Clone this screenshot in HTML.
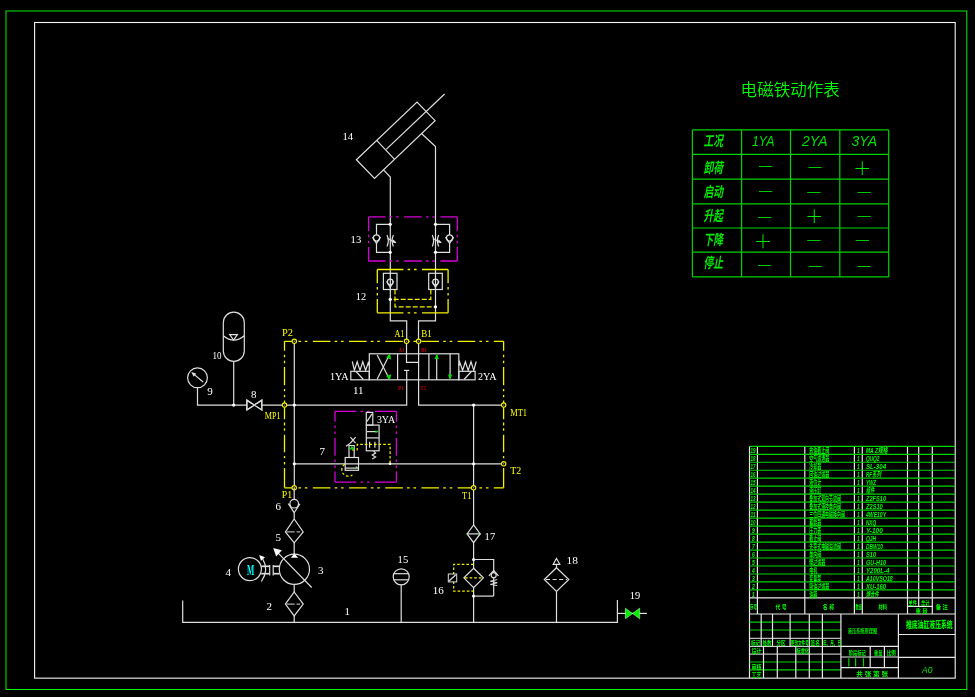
<!DOCTYPE html>
<html lang="zh">
<head>
<meta charset="utf-8">
<title>推底油缸液压系统 液压系统原理图</title>
<style>
html,body{margin:0;padding:0;background:#000;overflow:hidden}
body{width:975px;height:697px}
svg{display:block;position:absolute;left:0;top:0;will-change:transform}
text{white-space:pre}
.lb{font-family:"Liberation Serif","Noto Serif CJK SC",serif;font-size:11px;fill:#fff}
.yl{font-family:"Liberation Serif","Noto Serif CJK SC",serif;font-size:11px;fill:#ffff00}
.rd{font-family:"Liberation Serif","Noto Serif CJK SC",serif;font-size:6.8px;font-weight:700;fill:#c00000}
.mm{font-family:"Liberation Serif","Noto Serif CJK SC",serif;font-size:13.6px;font-weight:700;fill:#00ffff}
.tt{font-family:"Liberation Sans","Noto Sans CJK SC",sans-serif;font-weight:350;font-size:16.5px;fill:#00ff00}
.th{font-family:"Liberation Sans","Noto Sans CJK SC",sans-serif;font-style:italic;font-size:14px;fill:#00e000}
.tr{font-family:"Liberation Sans","Noto Sans CJK SC",sans-serif;font-style:italic;font-weight:700;font-size:14.5px;fill:#00e800}
.mk{font-family:"Liberation Sans","Noto Sans CJK SC",sans-serif;font-size:13.2px;fill:#00e000}
.pk{font-family:"Liberation Sans","Noto Sans CJK SC",sans-serif;font-weight:200;font-size:18.5px;fill:#00f000}
.bc{font-family:"Liberation Sans","Noto Sans CJK SC",sans-serif;font-weight:700;font-size:7.4px;fill:#00ff00}
.bh{font-family:"Liberation Sans","Noto Sans CJK SC",sans-serif;font-weight:700;font-size:6.1px;fill:#00ff00}
.bs{font-family:"Liberation Sans","Noto Sans CJK SC",sans-serif;font-weight:700;font-size:5.2px;fill:#00f000}
.bi{font-family:"Liberation Sans","Noto Sans CJK SC",sans-serif;font-style:italic;font-weight:700;font-size:7.4px;fill:#00ff00}
.bt{font-family:"Liberation Sans","Noto Sans CJK SC",sans-serif;font-weight:900;font-size:9.3px;fill:#00f400}
.ba{font-family:"Liberation Sans","Noto Sans CJK SC",sans-serif;font-style:italic;font-size:9.5px;fill:#00f000}
</style>
</head>
<body>
<svg width="975" height="697" viewBox="0 0 975 697">
<rect x="0" y="0" width="975" height="697" fill="#000"/>
<rect x="6" y="11" width="960.8" height="678.5" fill="none" stroke="#00f000" stroke-width="1" />
<rect x="34.6" y="22.5" width="920.6" height="655.65" fill="none" stroke="#f4f4f4" stroke-width="1.1" />
<polygon points="356.4,159.7 417,102 435.1,120.7 374.5,178.5" fill="none" stroke="#dedede" stroke-width="1.2" />
<line x1="376.9" y1="140.6" x2="394.6" y2="159.3" stroke="#dedede" stroke-width="1.2" />
<line x1="386.2" y1="149.4" x2="444.6" y2="94" stroke="#dedede" stroke-width="1.2" />
<polyline points="383.4,169.9 390.3,177 390.3,320.8 406.7,320.8 406.7,341.2" fill="none" stroke="#dedede" stroke-width="1.2" />
<polyline points="421.7,133.7 435.5,146.6 435.5,320.8 418.5,320.8 418.5,341.2" fill="none" stroke="#dedede" stroke-width="1.2" />
<line x1="368.6" y1="216.9" x2="457.3" y2="216.9" stroke="#d400d4" stroke-width="1.3" stroke-dasharray="16.95 4.2 2.6 3.8 2.6 5.4 17.6 4.2 2.6 3.8 2.6 5.4 17.95 50"/>
<line x1="368.6" y1="261" x2="457.3" y2="261" stroke="#d400d4" stroke-width="1.3" stroke-dasharray="16.95 4.2 2.6 3.8 2.6 5.4 17.6 4.2 2.6 3.8 2.6 5.4 17.95 50"/>
<line x1="368.6" y1="216.9" x2="368.6" y2="261" stroke="#d400d4" stroke-width="1.3" stroke-dasharray="14.1 3.7 2.5 3.6 2.5 3.6 15.1 50"/>
<line x1="457.3" y1="216.9" x2="457.3" y2="261" stroke="#d400d4" stroke-width="1.3" stroke-dasharray="14.1 3.7 2.5 3.6 2.5 3.6 15.1 50"/>
<polyline points="390.2,224.3 376.5,224.3 376.5,234.9" fill="none" stroke="#dedede" stroke-width="1.2" />
<polyline points="376.5,243.3 376.5,252.3 390.2,252.3" fill="none" stroke="#dedede" stroke-width="1.2" />
<circle cx="390.2" cy="224.3" r="1.6" fill="#ffffff"/>
<circle cx="390.2" cy="252.3" r="1.6" fill="#ffffff"/>
<circle cx="376.5" cy="238" r="3.1" fill="none" stroke="#dedede" stroke-width="1.2" />
<polyline points="372.4,237.1 376.5,243.3 380.6,237.1" fill="none" stroke="#dedede" stroke-width="1.2" />
<path d="M387.0,235.1 Q389.59999999999997,240.7 387.0,246.4" fill="none" stroke="#dedede" stroke-width="1.2" />
<path d="M393.4,235.1 Q390.8,240.7 393.4,246.4" fill="none" stroke="#dedede" stroke-width="1.2" />
<line x1="387.7" y1="238.5" x2="395.7" y2="242.6" stroke="#dedede" stroke-width="1.2" />
<polygon points="396.5,243 392.0,242.6 393.5,239.6" fill="#dedede" stroke="none" stroke-width="1"/>
<polyline points="435.5,224.3 449.6,224.3 449.6,234.9" fill="none" stroke="#dedede" stroke-width="1.2" />
<polyline points="449.6,243.3 449.6,252.3 435.5,252.3" fill="none" stroke="#dedede" stroke-width="1.2" />
<circle cx="435.5" cy="224.3" r="1.6" fill="#ffffff"/>
<circle cx="435.5" cy="252.3" r="1.6" fill="#ffffff"/>
<circle cx="449.6" cy="238" r="3.1" fill="none" stroke="#dedede" stroke-width="1.2" />
<polyline points="445.5,237.1 449.6,243.3 453.70000000000005,237.1" fill="none" stroke="#dedede" stroke-width="1.2" />
<path d="M432.3,235.1 Q434.9,240.7 432.3,246.4" fill="none" stroke="#dedede" stroke-width="1.2" />
<path d="M438.7,235.1 Q436.1,240.7 438.7,246.4" fill="none" stroke="#dedede" stroke-width="1.2" />
<line x1="433.0" y1="238.5" x2="441.0" y2="242.6" stroke="#dedede" stroke-width="1.2" />
<polygon points="441.8,243 437.3,242.6 438.8,239.6" fill="#dedede" stroke="none" stroke-width="1"/>
<line x1="377.3" y1="269.5" x2="448.1" y2="269.5" stroke="#f2f200" stroke-width="1.3" stroke-dasharray="26.1 4.2 2.6 3.8 2.6 5.4 27.1 50"/>
<line x1="377.3" y1="312.8" x2="448.1" y2="312.8" stroke="#f2f200" stroke-width="1.3" stroke-dasharray="26.1 4.2 2.6 3.8 2.6 5.4 27.1 50"/>
<line x1="377.3" y1="269.5" x2="377.3" y2="312.8" stroke="#f2f200" stroke-width="1.3" stroke-dasharray="13.7 3.7 2.5 3.6 2.5 3.6 14.7 50"/>
<line x1="448.1" y1="269.5" x2="448.1" y2="312.8" stroke="#f2f200" stroke-width="1.3" stroke-dasharray="13.7 3.7 2.5 3.6 2.5 3.6 14.7 50"/>
<rect x="383.4" y="273.3" width="13.6" height="16.2" fill="none" stroke="#dedede" stroke-width="1.2" />
<circle cx="390.2" cy="282" r="2.8" fill="none" stroke="#dedede" stroke-width="1.2" />
<polyline points="386.59999999999997,281.2 390.2,287.3 393.8,281.2" fill="none" stroke="#dedede" stroke-width="1.2" />
<rect x="428.7" y="273.3" width="13.6" height="16.2" fill="none" stroke="#dedede" stroke-width="1.2" />
<circle cx="435.5" cy="282" r="2.8" fill="none" stroke="#dedede" stroke-width="1.2" />
<polyline points="431.9,281.2 435.5,287.3 439.1,281.2" fill="none" stroke="#dedede" stroke-width="1.2" />
<polyline points="395,289.5 395,306.8 435.5,306.8" fill="none" stroke="#f2f200" stroke-width="1.2" stroke-dasharray="5 2"/>
<polyline points="430.8,289.5 430.8,299.4 390.2,299.4" fill="none" stroke="#f2f200" stroke-width="1.2" stroke-dasharray="5 2"/>
<circle cx="390.2" cy="299.4" r="1.6" fill="#ffffff"/>
<circle cx="435.5" cy="306.8" r="1.6" fill="#ffffff"/>
<line x1="284.5" y1="341.3" x2="503.6" y2="341.3" stroke="#f2f200" stroke-width="1.3" stroke-dasharray="9.75 4.2 2.6 3.8 2.6 5.4 17.6 4.2 2.6 3.8 2.6 5.4 17.6 4.2 2.6 3.8 2.6 5.4 17.6 4.2 2.6 3.8 2.6 5.4 17.6 4.2 2.6 3.8 2.6 5.4 17.6 4.2 2.6 3.8 2.6 5.4 10.75 50"/>
<line x1="284.5" y1="487.8" x2="503.6" y2="487.8" stroke="#f2f200" stroke-width="1.3" stroke-dasharray="9.75 4.2 2.6 3.8 2.6 5.4 17.6 4.2 2.6 3.8 2.6 5.4 17.6 4.2 2.6 3.8 2.6 5.4 17.6 4.2 2.6 3.8 2.6 5.4 17.6 4.2 2.6 3.8 2.6 5.4 17.6 4.2 2.6 3.8 2.6 5.4 10.75 50"/>
<line x1="284.5" y1="341.3" x2="284.5" y2="487.8" stroke="#f2f200" stroke-width="1.3" stroke-dasharray="9.5 3.9 2.5 3.6 2.5 3.6 18.3 3.7 2.4 3.7 2.3 3.3 18.7 3.2 2.9 2.9 2.5 3.9 17.6 3.6 2.4 3.7 2.5 3.6 30 50"/>
<line x1="503.6" y1="341.3" x2="503.6" y2="487.8" stroke="#f2f200" stroke-width="1.3" stroke-dasharray="9.5 3.9 2.5 3.6 2.5 3.6 18.3 3.7 2.4 3.7 2.3 3.3 18.7 3.2 2.9 2.9 2.5 3.9 17.6 3.6 2.4 3.7 2.5 3.6 30 50"/>
<line x1="294.3" y1="341.3" x2="294.3" y2="487.8" stroke="#dedede" stroke-width="1.2" />
<polyline points="197.5,387.8 197.5,405.1 406.7,405.1 406.7,370.4" fill="none" stroke="#dedede" stroke-width="1.2" />
<line x1="404" y1="370.4" x2="409.2" y2="370.4" stroke="#dedede" stroke-width="1.2" />
<polyline points="406.5,341.2 406.5,362.4 418.6,362.4" fill="none" stroke="#dedede" stroke-width="1.2" />
<polyline points="418.6,341.2 418.6,405.1 503.7,405.1" fill="none" stroke="#dedede" stroke-width="1.2" />
<line x1="294.3" y1="463.8" x2="503.7" y2="463.8" stroke="#dedede" stroke-width="1.2" />
<line x1="473.6" y1="405.1" x2="473.6" y2="524.9" stroke="#dedede" stroke-width="1.2" />
<line x1="473.6" y1="542.7" x2="473.6" y2="568.3" stroke="#dedede" stroke-width="1.2" />
<line x1="473.6" y1="587.6" x2="473.6" y2="622.4" stroke="#dedede" stroke-width="1.2" />
<circle cx="294.3" cy="405.1" r="1.6" fill="#ffffff"/>
<circle cx="294.3" cy="463.8" r="1.6" fill="#ffffff"/>
<circle cx="473.6" cy="405.1" r="1.6" fill="#ffffff"/>
<circle cx="473.6" cy="463.8" r="1.6" fill="#ffffff"/>
<circle cx="294.3" cy="341.3" r="2.2" fill="#000" stroke="#f2f200" stroke-width="1.1" />
<circle cx="294.3" cy="341.3" r="0.7" fill="#8890a0"/>
<circle cx="406.5" cy="341.3" r="2.2" fill="#000" stroke="#f2f200" stroke-width="1.1" />
<circle cx="406.5" cy="341.3" r="0.7" fill="#8890a0"/>
<circle cx="418.6" cy="341.3" r="2.2" fill="#000" stroke="#f2f200" stroke-width="1.1" />
<circle cx="418.6" cy="341.3" r="0.7" fill="#8890a0"/>
<circle cx="284.5" cy="405.1" r="2.2" fill="#000" stroke="#f2f200" stroke-width="1.1" />
<circle cx="284.5" cy="405.1" r="0.7" fill="#8890a0"/>
<circle cx="503.7" cy="405.1" r="2.2" fill="#000" stroke="#f2f200" stroke-width="1.1" />
<circle cx="503.7" cy="405.1" r="0.7" fill="#8890a0"/>
<circle cx="503.7" cy="463.8" r="2.2" fill="#000" stroke="#f2f200" stroke-width="1.1" />
<circle cx="503.7" cy="463.8" r="0.7" fill="#8890a0"/>
<circle cx="294.2" cy="487.8" r="2.2" fill="#000" stroke="#f2f200" stroke-width="1.1" />
<circle cx="294.2" cy="487.8" r="0.7" fill="#8890a0"/>
<circle cx="473.6" cy="487.8" r="2.2" fill="#000" stroke="#f2f200" stroke-width="1.1" />
<circle cx="473.6" cy="487.8" r="0.7" fill="#8890a0"/>
<rect x="369.3" y="353.8" width="89.5" height="26.0" fill="none" stroke="#dedede" stroke-width="1.2" />
<line x1="397.6" y1="353.8" x2="397.6" y2="379.8" stroke="#dedede" stroke-width="1.2" />
<line x1="428.9" y1="353.8" x2="428.9" y2="379.8" stroke="#dedede" stroke-width="1.2" />
<line x1="377.2" y1="355" x2="389.2" y2="378.7" stroke="#dedede" stroke-width="1.2" />
<line x1="377.2" y1="379" x2="389.2" y2="355.2" stroke="#dedede" stroke-width="1.2" />
<polygon points="390.2,353.6 386.2,357.6 391,359.4" fill="#00e000" stroke="none" stroke-width="1"/>
<polygon points="390.2,380 386.2,376 391,374.2" fill="#00e000" stroke="none" stroke-width="1"/>
<line x1="436.7" y1="355" x2="436.7" y2="379.8" stroke="#dedede" stroke-width="1.2" />
<line x1="450.1" y1="353.8" x2="450.1" y2="378.5" stroke="#dedede" stroke-width="1.2" />
<polygon points="436.7,353.6 434.6,359 438.8,359" fill="#00e000" stroke="none" stroke-width="1"/>
<polygon points="450.1,380 448,374.6 452.2,374.6" fill="#00e000" stroke="none" stroke-width="1"/>
<polyline points="352.3,361.5 354.4,370.4 357.2,361.8 360,370.4 362.8,361.8 365.6,370.4 368.6,361.8 369.3,366" fill="none" stroke="#dedede" stroke-width="1.2" />
<rect x="350.8" y="371.3" width="18.5" height="8.5" fill="none" stroke="#dedede" stroke-width="1.2" />
<line x1="356" y1="371.5" x2="363.4" y2="379.5" stroke="#dedede" stroke-width="1.2" />
<polyline points="458.8,366 459.6,361.8 462.6,370.4 465.4,361.8 468.2,370.4 471,361.8 473.8,370.4 476.2,361.5" fill="none" stroke="#dedede" stroke-width="1.2" />
<rect x="458.8" y="371.3" width="16.3" height="8.5" fill="none" stroke="#dedede" stroke-width="1.2" />
<line x1="471.4" y1="371.5" x2="464" y2="379.5" stroke="#dedede" stroke-width="1.2" />
<circle cx="197.5" cy="377.8" r="9.9" fill="none" stroke="#dedede" stroke-width="1.2" />
<line x1="203.1" y1="382" x2="192.6" y2="373.1" stroke="#dedede" stroke-width="1.2" />
<polygon points="191.3,372 196.2,373.6 193.6,376.7" fill="#dedede" stroke="none" stroke-width="1"/>
<path d="M223.3,322.7 A10.5,10.5 0 0 1 244.3,322.7 L244.3,350.8 A10.5,10.5 0 0 1 223.3,350.8 Z" fill="none" stroke="#dedede" stroke-width="1.2" />
<path d="M223.3,335.8 Q233.8,344.6 244.3,335.8" fill="none" stroke="#dedede" stroke-width="1.2" />
<polygon points="229.7,334.6 237.4,334.6 233.6,340" fill="none" stroke="#dedede" stroke-width="1.2" />
<line x1="233.7" y1="361.3" x2="233.7" y2="405.1" stroke="#dedede" stroke-width="1.2" />
<circle cx="233.7" cy="405.1" r="1.6" fill="#ffffff"/>
<polygon points="246.9,400.2 246.9,410 261.8,400.2 261.8,410" fill="none" stroke="#dedede" stroke-width="1.2" />
<rect x="247.5" y="404" width="13.6" height="2.4" fill="#000"/>
<polygon points="246.9,400.2 246.9,410 261.8,400.2 261.8,410" fill="none" stroke="#dedede" stroke-width="1.2" />
<line x1="335" y1="411.3" x2="396.4" y2="411.3" stroke="#d400d4" stroke-width="1.3" stroke-dasharray="21.4 4.2 2.6 3.8 2.6 5.4 22.4 50"/>
<line x1="335" y1="482.1" x2="396.4" y2="482.1" stroke="#d400d4" stroke-width="1.3" stroke-dasharray="21.4 4.2 2.6 3.8 2.6 5.4 22.4 50"/>
<line x1="335" y1="411.3" x2="335" y2="482.1" stroke="#d400d4" stroke-width="1.3" stroke-dasharray="10.5 3.7 2.5 3.6 2.5 3.6 18 3.7 2.5 3.6 2.5 3.6 11.5 50"/>
<line x1="396.4" y1="411.3" x2="396.4" y2="482.1" stroke="#d400d4" stroke-width="1.3" stroke-dasharray="10.5 3.7 2.5 3.6 2.5 3.6 18 3.7 2.5 3.6 2.5 3.6 11.5 50"/>
<rect x="366.3" y="412.4" width="6.5" height="12.7" fill="none" stroke="#dedede" stroke-width="1.2" />
<line x1="367" y1="421.4" x2="372" y2="413.9" stroke="#dedede" stroke-width="1.2" />
<rect x="366.3" y="425.1" width="12.8" height="25.7" fill="none" stroke="#dedede" stroke-width="1.2" />
<line x1="366.3" y1="437.9" x2="379.1" y2="437.9" stroke="#dedede" stroke-width="1.2" />
<line x1="367" y1="431.6" x2="378" y2="431.6" stroke="#dedede" stroke-width="1.2" />
<polygon points="378.6,431.6 375.4,430.3 375.4,432.9" fill="#00e000" stroke="none" stroke-width="1"/>
<line x1="369.6" y1="441.7" x2="369.6" y2="447.7" stroke="#dedede" stroke-width="1.2" />
<line x1="374.9" y1="441.7" x2="374.9" y2="447.7" stroke="#dedede" stroke-width="1.2" />
<polyline points="373.6,450.8 375.6,453 372.2,455 375.6,457 372.2,459" fill="none" stroke="#dedede" stroke-width="1.2" />
<polyline points="352,450 357.2,450 357.2,444.4 390.1,444.4 390.1,463.8" fill="none" stroke="#f2f200" stroke-width="1.2" stroke-dasharray="2.6 2"/>
<circle cx="390.1" cy="463.8" r="1.3" fill="#ffffff"/>
<rect x="345.2" y="457.5" width="13.3" height="12.8" fill="none" stroke="#dedede" stroke-width="1.2" />
<line x1="345.2" y1="468.1" x2="358.5" y2="468.1" stroke="#dedede" stroke-width="1.2" />
<polygon points="358.2,467.2 355.8,466.2 355.8,468.2" fill="#80ff80" stroke="none" stroke-width="1"/>
<polyline points="349,457.5 349,445.5 354.2,445.5 354.2,457.5" fill="none" stroke="#dedede" stroke-width="1.2" />
<line x1="350.4" y1="437.2" x2="355.6" y2="443.2" stroke="#dedede" stroke-width="1.2" />
<line x1="355.6" y1="437.2" x2="350.4" y2="443.2" stroke="#dedede" stroke-width="1.2" />
<line x1="346" y1="446.2" x2="350.4" y2="443.2" stroke="#dedede" stroke-width="1.2" />
<polygon points="351.9,445.6 349.6,449.6 354.2,449.6" fill="#00e000" stroke="none" stroke-width="1"/>
<path d="M344.6,464.2 A6,6 0 1 0 352.4,475" fill="none" stroke="#f2f200" stroke-width="1.2" stroke-dasharray="2.6 2"/>
<line x1="294.2" y1="487.8" x2="294.2" y2="499.3" stroke="#dedede" stroke-width="1.2" />
<circle cx="294.2" cy="503.7" r="4.3" fill="none" stroke="#dedede" stroke-width="1.2" />
<polyline points="288.3,503.7 294.2,512.7 300,503.7" fill="none" stroke="#dedede" stroke-width="1.2" />
<line x1="294.2" y1="512.7" x2="294.2" y2="518.8" stroke="#dedede" stroke-width="1.2" />
<polygon points="294.2,519 303.2,531.9 294.2,542.8 285.4,531.9" fill="none" stroke="#dedede" stroke-width="1.2" />
<line x1="286.6" y1="531.9" x2="302" y2="531.9" stroke="#dedede" stroke-width="1" stroke-dasharray="8 2 3.5 4"/>
<line x1="294.2" y1="542.7" x2="294.2" y2="554.1" stroke="#dedede" stroke-width="1.2" />
<circle cx="294.4" cy="569.3" r="15.1" fill="none" stroke="#dedede" stroke-width="1.2" />
<polygon points="290.8,557.7 298.2,557.7 294.4,553.6" fill="#fff" stroke="none" stroke-width="1"/>
<line x1="311.7" y1="587.5" x2="278" y2="552.9" stroke="#dedede" stroke-width="1.2" />
<polygon points="273.2,548.1 281.9,550.2 276.2,556.4" fill="#fff" stroke="none" stroke-width="1"/>
<line x1="294.2" y1="584.4" x2="294.2" y2="592" stroke="#dedede" stroke-width="1.2" />
<polygon points="294.2,592 303.2,604.1 294.2,615.9 285.4,604.1" fill="none" stroke="#dedede" stroke-width="1.2" />
<line x1="286.6" y1="604.1" x2="302" y2="604.1" stroke="#dedede" stroke-width="1" stroke-dasharray="8 2 3.5 4"/>
<line x1="294.2" y1="615.9" x2="294.2" y2="622.4" stroke="#dedede" stroke-width="1.2" />
<circle cx="249.9" cy="569.1" r="11.5" fill="none" stroke="#dedede" stroke-width="1.2" />
<line x1="261.2" y1="566.3" x2="269.7" y2="566.3" stroke="#dedede" stroke-width="1.7" />
<line x1="261.2" y1="573.7" x2="269.7" y2="573.7" stroke="#dedede" stroke-width="1.7" />
<line x1="269.7" y1="564.9" x2="269.7" y2="575.6" stroke="#dedede" stroke-width="1.2" />
<line x1="273.2" y1="564.9" x2="273.2" y2="575.6" stroke="#dedede" stroke-width="1.2" />
<line x1="273.2" y1="566.3" x2="279.6" y2="566.3" stroke="#dedede" stroke-width="1.7" />
<line x1="273.2" y1="573.7" x2="279.6" y2="573.7" stroke="#dedede" stroke-width="1.7" />
<path d="M261.4,581.5 Q269.4,570 262.6,558.8" fill="none" stroke="#dedede" stroke-width="1.2" />
<polygon points="259.2,555 265,557.2 261,560.8" fill="#fff" stroke="none" stroke-width="1"/>
<polyline points="182.7,600.5 182.7,622.4 617.4,622.4 617.4,600" fill="none" stroke="#dedede" stroke-width="1.2" />
<circle cx="401.2" cy="576.8" r="8" fill="none" stroke="#dedede" stroke-width="1.2" />
<line x1="393.8" y1="573.7" x2="408.6" y2="573.7" stroke="#dedede" stroke-width="1.2" />
<line x1="393.8" y1="579.8" x2="408.6" y2="579.8" stroke="#dedede" stroke-width="1.2" />
<line x1="401.2" y1="584.8" x2="401.2" y2="622.4" stroke="#dedede" stroke-width="1.2" />
<polygon points="473.6,524.9 480.2,533.9 473.6,542.7 467.1,533.9" fill="none" stroke="#dedede" stroke-width="1.2" />
<line x1="467.1" y1="533.9" x2="480.2" y2="533.9" stroke="#dedede" stroke-width="1.2" />
<circle cx="467.4" cy="533.9" r="0.8" fill="#80ff80"/>
<circle cx="479.9" cy="533.9" r="0.8" fill="#80ff80"/>
<circle cx="473.6" cy="559.5" r="1.6" fill="#ffffff"/>
<circle cx="473.6" cy="596.1" r="1.6" fill="#ffffff"/>
<polyline points="473.6,559.5 493.7,559.5 493.7,572.8" fill="none" stroke="#dedede" stroke-width="1.2" />
<circle cx="493.7" cy="575.2" r="2.5" fill="none" stroke="#dedede" stroke-width="1.2" />
<polyline points="488.9,575.8 493.7,570.4 498.5,575.8" fill="none" stroke="#dedede" stroke-width="1.2" />
<line x1="493.7" y1="577.8" x2="493.7" y2="596.1" stroke="#dedede" stroke-width="1.2" />
<line x1="473.6" y1="596.1" x2="493.7" y2="596.1" stroke="#dedede" stroke-width="1.2" />
<polyline points="497.2,579.6 490.4,581.2 497.2,582.8 490.4,584.4 497.2,585.6" fill="none" stroke="#dedede" stroke-width="1" />
<polygon points="473.6,568.3 483.4,577.8 473.6,587.6 463.9,577.8" fill="none" stroke="#dedede" stroke-width="1.2" />
<line x1="465" y1="577.8" x2="482.4" y2="577.8" stroke="#f2f200" stroke-width="1.2" stroke-dasharray="2.6 2"/>
<polyline points="473.6,564.4 453.7,564.4 453.7,591.2 473.6,591.2" fill="none" stroke="#f2f200" stroke-width="1.2" stroke-dasharray="2.6 2"/>
<rect x="448.3" y="574" width="8.4" height="7.9" fill="#000" stroke="#dedede" stroke-width="1"/>
<line x1="449" y1="581" x2="455.6" y2="575" stroke="#dedede" stroke-width="1.2" />
<polygon points="556.5,567.7 568.8,579.5 556.5,591.5 544.3,579.5" fill="none" stroke="#dedede" stroke-width="1.2" />
<line x1="546" y1="579.5" x2="567" y2="579.5" stroke="#dedede" stroke-width="1" stroke-dasharray="4 2.6"/>
<line x1="556.5" y1="591.5" x2="556.5" y2="622.4" stroke="#dedede" stroke-width="1.2" />
<polygon points="553.2,564.3 559.8,564.3 556.5,558.5" fill="none" stroke="#dedede" stroke-width="1.2" />
<line x1="556.5" y1="564.3" x2="556.5" y2="567.7" stroke="#dedede" stroke-width="1.2" />
<line x1="617.4" y1="613.4" x2="646.9" y2="613.4" stroke="#dedede" stroke-width="1.2" />
<polygon points="625.4,608.2 625.4,618.8 639.7,608.2 639.7,618.8" fill="#00f000" stroke="#a0ffa0" stroke-width="0.6"/>
<text x="330" y="379.7" class="lb" textLength="18.6" lengthAdjust="spacingAndGlyphs" >1YA</text>
<text x="478" y="379.7" class="lb" textLength="18.6" lengthAdjust="spacingAndGlyphs" >2YA</text>
<text x="352.9" y="394.1" class="lb" textLength="10.6" lengthAdjust="spacingAndGlyphs" >11</text>
<text x="376.9" y="422.7" class="lb" textLength="18.2" lengthAdjust="spacingAndGlyphs" >3YA</text>
<text x="319.6" y="455.0" class="lb" >7</text>
<text x="212.6" y="359.4" class="lb" textLength="9" lengthAdjust="spacingAndGlyphs" >10</text>
<text x="207.2" y="394.7" class="lb" >9</text>
<text x="251" y="397.6" class="lb" >8</text>
<text x="275.6" y="509.9" class="lb" >6</text>
<text x="275.6" y="540.9" class="lb" >5</text>
<text x="225.6" y="575.7" class="lb" >4</text>
<text x="318" y="574.1" class="lb" >3</text>
<text x="266.5" y="609.5" class="lb" >2</text>
<text x="344.4" y="614.7" class="lb" >1</text>
<text x="397.6" y="562.9" class="lb" textLength="10.6" lengthAdjust="spacingAndGlyphs" >15</text>
<text x="432.7" y="594.1" class="lb" textLength="11" lengthAdjust="spacingAndGlyphs" >16</text>
<text x="484.6" y="540.4" class="lb" textLength="10.6" lengthAdjust="spacingAndGlyphs" >17</text>
<text x="566.6" y="564.3" class="lb" textLength="11.4" lengthAdjust="spacingAndGlyphs" >18</text>
<text x="629.7" y="599.4" class="lb" textLength="10.4" lengthAdjust="spacingAndGlyphs" >19</text>
<text x="342.4" y="139.7" class="lb" textLength="10.8" lengthAdjust="spacingAndGlyphs" >14</text>
<text x="350.6" y="243.4" class="lb" textLength="10.6" lengthAdjust="spacingAndGlyphs" >13</text>
<text x="355.8" y="300.3" class="lb" textLength="10.4" lengthAdjust="spacingAndGlyphs" >12</text>
<text x="281.9" y="336" class="yl" textLength="11" lengthAdjust="spacingAndGlyphs" >P2</text>
<text x="264.8" y="418.8" class="yl" textLength="15.8" lengthAdjust="spacingAndGlyphs" >MP1</text>
<text x="281.7" y="498.2" class="yl" textLength="10.4" lengthAdjust="spacingAndGlyphs" >P1</text>
<text x="462" y="498.6" class="yl" textLength="9.4" lengthAdjust="spacingAndGlyphs" >T1</text>
<text x="510.2" y="415.7" class="yl" textLength="16.8" lengthAdjust="spacingAndGlyphs" >MT1</text>
<text x="510.2" y="474.2" class="yl" textLength="11" lengthAdjust="spacingAndGlyphs" >T2</text>
<text x="394.4" y="337" class="yl" textLength="10" lengthAdjust="spacingAndGlyphs" >A1</text>
<text x="421.2" y="337" class="yl" textLength="10.5" lengthAdjust="spacingAndGlyphs" >B1</text>
<text x="398.5" y="351.8" class="rd" textLength="6" lengthAdjust="spacingAndGlyphs" >A1</text>
<text x="421" y="351.8" class="rd" textLength="6" lengthAdjust="spacingAndGlyphs" >B1</text>
<text x="398" y="390.2" class="rd" textLength="6" lengthAdjust="spacingAndGlyphs" >P1</text>
<text x="420.3" y="390.2" class="rd" textLength="6" lengthAdjust="spacingAndGlyphs" >T1</text>
<text x="246.9" y="575.1" class="mm" textLength="7.3" lengthAdjust="spacingAndGlyphs" >M</text>
<line x1="692.4" y1="129.9" x2="692.4" y2="276.9" stroke="#00d200" stroke-width="1.2" />
<line x1="741.6" y1="129.9" x2="741.6" y2="276.9" stroke="#00d200" stroke-width="1.2" />
<line x1="790.5" y1="129.9" x2="790.5" y2="276.9" stroke="#00d200" stroke-width="1.2" />
<line x1="839.8" y1="129.9" x2="839.8" y2="276.9" stroke="#00d200" stroke-width="1.2" />
<line x1="888.7" y1="129.9" x2="888.7" y2="276.9" stroke="#00d200" stroke-width="1.2" />
<line x1="692.4" y1="129.9" x2="888.7" y2="129.9" stroke="#00d200" stroke-width="1.2" />
<line x1="692.4" y1="154.4" x2="888.7" y2="154.4" stroke="#00d200" stroke-width="1.2" />
<line x1="692.4" y1="179.1" x2="888.7" y2="179.1" stroke="#00d200" stroke-width="1.2" />
<line x1="692.4" y1="203.9" x2="888.7" y2="203.9" stroke="#00d200" stroke-width="1.2" />
<line x1="692.4" y1="228" x2="888.7" y2="228" stroke="#00d200" stroke-width="1.2" />
<line x1="692.4" y1="252.1" x2="888.7" y2="252.1" stroke="#00d200" stroke-width="1.2" />
<line x1="692.4" y1="276.9" x2="888.7" y2="276.9" stroke="#00d200" stroke-width="1.2" />
<text x="740.6" y="96.3" class="tt" textLength="99.2" lengthAdjust="spacingAndGlyphs" >电磁铁动作表</text>
<text x="752" y="145.9" class="th" textLength="22.4" lengthAdjust="spacingAndGlyphs" >1YA</text>
<text x="802" y="145.9" class="th" textLength="25.6" lengthAdjust="spacingAndGlyphs" >2YA</text>
<text x="851.4" y="145.9" class="th" textLength="25.8" lengthAdjust="spacingAndGlyphs" >3YA</text>
<text x="703.4" y="145.8" class="tr" textLength="19.6" lengthAdjust="spacingAndGlyphs" >工况</text>
<text x="703.4" y="172.6" class="tr" textLength="19.6" lengthAdjust="spacingAndGlyphs" >卸荷</text>
<text x="703.4" y="197.4" class="tr" textLength="19.6" lengthAdjust="spacingAndGlyphs" >启动</text>
<text x="703.4" y="220.6" class="tr" textLength="19.6" lengthAdjust="spacingAndGlyphs" >升起</text>
<text x="703.4" y="245" class="tr" textLength="19.6" lengthAdjust="spacingAndGlyphs" >下降</text>
<text x="703.4" y="268" class="tr" textLength="19.6" lengthAdjust="spacingAndGlyphs" >停止</text>
<text x="758.9" y="169.8" class="mk" textLength="13.2" lengthAdjust="spacingAndGlyphs" >—</text>
<text x="808.6" y="171.4" class="mk" textLength="13.2" lengthAdjust="spacingAndGlyphs" >—</text>
<text x="852.9" y="174.7" class="pk" >＋</text>
<text x="758.9" y="194.9" class="mk" textLength="13.2" lengthAdjust="spacingAndGlyphs" >—</text>
<text x="807.2" y="196.2" class="mk" textLength="13.2" lengthAdjust="spacingAndGlyphs" >—</text>
<text x="857.6" y="195.7" class="mk" textLength="13.2" lengthAdjust="spacingAndGlyphs" >—</text>
<text x="758.2" y="220.8" class="mk" textLength="13.2" lengthAdjust="spacingAndGlyphs" >—</text>
<text x="805.0" y="222.8" class="pk" >＋</text>
<text x="857.6" y="220.3" class="mk" textLength="13.2" lengthAdjust="spacingAndGlyphs" >—</text>
<text x="753.8" y="247.7" class="pk" >＋</text>
<text x="807.2" y="243.8" class="mk" textLength="13.2" lengthAdjust="spacingAndGlyphs" >—</text>
<text x="855.8" y="244.4" class="mk" textLength="13.2" lengthAdjust="spacingAndGlyphs" >—</text>
<text x="758.1" y="269.2" class="mk" textLength="13.2" lengthAdjust="spacingAndGlyphs" >—</text>
<text x="808.7" y="269.9" class="mk" textLength="13.2" lengthAdjust="spacingAndGlyphs" >—</text>
<text x="857.6" y="270.4" class="mk" textLength="13.2" lengthAdjust="spacingAndGlyphs" >—</text>
<line x1="749.5" y1="446.3" x2="749.5" y2="614" stroke="#e8e8e8" stroke-width="1.2" />
<line x1="757.4" y1="446.3" x2="757.4" y2="614" stroke="#e8e8e8" stroke-width="1.2" />
<line x1="804.8" y1="446.3" x2="804.8" y2="614" stroke="#e8e8e8" stroke-width="1.2" />
<line x1="854.4" y1="446.3" x2="854.4" y2="614" stroke="#e8e8e8" stroke-width="1.2" />
<line x1="862.3" y1="446.3" x2="862.3" y2="614" stroke="#e8e8e8" stroke-width="1.2" />
<line x1="907.5" y1="446.3" x2="907.5" y2="614" stroke="#e8e8e8" stroke-width="1.2" />
<line x1="918.7" y1="446.3" x2="918.7" y2="606.4" stroke="#e8e8e8" stroke-width="1.2" />
<line x1="932.3" y1="446.3" x2="932.3" y2="614" stroke="#e8e8e8" stroke-width="1.2" />
<line x1="749.5" y1="446.3" x2="955.2" y2="446.3" stroke="#00d200" stroke-width="1.2" />
<line x1="749.5" y1="454.28" x2="955.2" y2="454.28" stroke="#00d200" stroke-width="1.2" />
<line x1="749.5" y1="462.26" x2="955.2" y2="462.26" stroke="#00d200" stroke-width="1.2" />
<line x1="749.5" y1="470.24" x2="955.2" y2="470.24" stroke="#00d200" stroke-width="1.2" />
<line x1="749.5" y1="478.22" x2="955.2" y2="478.22" stroke="#00d200" stroke-width="1.2" />
<line x1="749.5" y1="486.2" x2="955.2" y2="486.2" stroke="#00d200" stroke-width="1.2" />
<line x1="749.5" y1="494.18" x2="955.2" y2="494.18" stroke="#00d200" stroke-width="1.2" />
<line x1="749.5" y1="502.16" x2="955.2" y2="502.16" stroke="#00d200" stroke-width="1.2" />
<line x1="749.5" y1="510.14" x2="955.2" y2="510.14" stroke="#00d200" stroke-width="1.2" />
<line x1="749.5" y1="518.12" x2="955.2" y2="518.12" stroke="#00d200" stroke-width="1.2" />
<line x1="749.5" y1="526.1" x2="955.2" y2="526.1" stroke="#00d200" stroke-width="1.2" />
<line x1="749.5" y1="534.08" x2="955.2" y2="534.08" stroke="#00d200" stroke-width="1.2" />
<line x1="749.5" y1="542.06" x2="955.2" y2="542.06" stroke="#00d200" stroke-width="1.2" />
<line x1="749.5" y1="550.04" x2="955.2" y2="550.04" stroke="#00d200" stroke-width="1.2" />
<line x1="749.5" y1="558.02" x2="955.2" y2="558.02" stroke="#00d200" stroke-width="1.2" />
<line x1="749.5" y1="566.0" x2="955.2" y2="566.0" stroke="#00d200" stroke-width="1.2" />
<line x1="749.5" y1="573.98" x2="955.2" y2="573.98" stroke="#00d200" stroke-width="1.2" />
<line x1="749.5" y1="581.96" x2="955.2" y2="581.96" stroke="#00d200" stroke-width="1.2" />
<line x1="749.5" y1="589.94" x2="955.2" y2="589.94" stroke="#00d200" stroke-width="1.2" />
<line x1="749.5" y1="597.9" x2="955.2" y2="597.9" stroke="#e8e8e8" stroke-width="1.2" />
<line x1="749.5" y1="614" x2="955.2" y2="614" stroke="#e8e8e8" stroke-width="1.2" />
<line x1="907.5" y1="606.4" x2="932.3" y2="606.4" stroke="#e8e8e8" stroke-width="1.2" />
<line x1="749.5" y1="614" x2="749.5" y2="678" stroke="#e8e8e8" stroke-width="1.2" />
<line x1="749.5" y1="622.1" x2="840.9" y2="622.1" stroke="#00d200" stroke-width="1.2" />
<line x1="749.5" y1="630" x2="840.9" y2="630" stroke="#00d200" stroke-width="1.2" />
<line x1="749.5" y1="638.3" x2="840.9" y2="638.3" stroke="#e8e8e8" stroke-width="1" />
<line x1="749.5" y1="646.4" x2="840.9" y2="646.4" stroke="#e8e8e8" stroke-width="1" />
<line x1="749.5" y1="654.1" x2="840.9" y2="654.1" stroke="#e8e8e8" stroke-width="1" />
<line x1="749.5" y1="662" x2="840.9" y2="662" stroke="#00d200" stroke-width="1.2" />
<line x1="749.5" y1="669.9" x2="840.9" y2="669.9" stroke="#00d200" stroke-width="1.2" />
<line x1="761.2" y1="614" x2="761.2" y2="646.4" stroke="#e8e8e8" stroke-width="1.2" />
<line x1="772.5" y1="614" x2="772.5" y2="646.4" stroke="#e8e8e8" stroke-width="1.2" />
<line x1="790.1" y1="614" x2="790.1" y2="646.4" stroke="#e8e8e8" stroke-width="1.2" />
<line x1="809.3" y1="614" x2="809.3" y2="646.4" stroke="#e8e8e8" stroke-width="1.2" />
<line x1="822.4" y1="614" x2="822.4" y2="646.4" stroke="#e8e8e8" stroke-width="1.2" />
<line x1="763.5" y1="646.4" x2="763.5" y2="678" stroke="#e8e8e8" stroke-width="1.2" />
<line x1="777.3" y1="646.4" x2="777.3" y2="678" stroke="#e8e8e8" stroke-width="1.2" />
<line x1="795.8" y1="646.4" x2="795.8" y2="678" stroke="#e8e8e8" stroke-width="1.2" />
<line x1="809.3" y1="646.4" x2="809.3" y2="678" stroke="#e8e8e8" stroke-width="1.2" />
<line x1="822.4" y1="646.4" x2="822.4" y2="678" stroke="#e8e8e8" stroke-width="1.2" />
<line x1="840.9" y1="614" x2="840.9" y2="678" stroke="#e8e8e8" stroke-width="1.2" />
<line x1="898.4" y1="614" x2="898.4" y2="678" stroke="#e8e8e8" stroke-width="1.2" />
<line x1="840.9" y1="646.4" x2="898.4" y2="646.4" stroke="#e8e8e8" stroke-width="1.2" />
<line x1="840.9" y1="657" x2="898.4" y2="657" stroke="#e8e8e8" stroke-width="1.2" />
<line x1="840.9" y1="667.7" x2="898.4" y2="667.7" stroke="#e8e8e8" stroke-width="1.2" />
<line x1="870.2" y1="646.4" x2="870.2" y2="667.7" stroke="#e8e8e8" stroke-width="1.2" />
<line x1="884.4" y1="646.4" x2="884.4" y2="667.7" stroke="#e8e8e8" stroke-width="1.2" />
<line x1="848.8" y1="658.2" x2="848.8" y2="666.6" stroke="#00d200" stroke-width="1.2" />
<line x1="855.6" y1="658.2" x2="855.6" y2="666.6" stroke="#00d200" stroke-width="1.2" />
<line x1="863.5" y1="658.2" x2="863.5" y2="666.6" stroke="#00d200" stroke-width="1.2" />
<line x1="898.4" y1="634.5" x2="955.2" y2="634.5" stroke="#e8e8e8" stroke-width="1.2" />
<line x1="898.4" y1="657.3" x2="955.2" y2="657.3" stroke="#e8e8e8" stroke-width="1.2" />
<text x="750.6" y="453.0" class="bi" textLength="5" lengthAdjust="spacingAndGlyphs" >19</text>
<text x="809.3" y="453.0" class="bc" textLength="19.8" lengthAdjust="spacingAndGlyphs" >放油截止阀</text>
<text x="857.2" y="453.0" class="bi" textLength="2.4" lengthAdjust="spacingAndGlyphs" >1</text>
<text x="866" y="453.0" class="bi" textLength="21.8" lengthAdjust="spacingAndGlyphs" >MA Z规格</text>
<text x="750.6" y="460.98" class="bi" textLength="5" lengthAdjust="spacingAndGlyphs" >18</text>
<text x="809.3" y="460.98" class="bc" textLength="19.8" lengthAdjust="spacingAndGlyphs" >空气滤清器</text>
<text x="857.2" y="460.98" class="bi" textLength="2.4" lengthAdjust="spacingAndGlyphs" >1</text>
<text x="866" y="460.98" class="bi" textLength="13.4" lengthAdjust="spacingAndGlyphs" >QUQ2</text>
<text x="750.6" y="468.96" class="bi" textLength="5" lengthAdjust="spacingAndGlyphs" >17</text>
<text x="809.3" y="468.96" class="bc" textLength="11.9" lengthAdjust="spacingAndGlyphs" >冷却器</text>
<text x="857.2" y="468.96" class="bi" textLength="2.4" lengthAdjust="spacingAndGlyphs" >1</text>
<text x="866" y="468.96" class="bi" textLength="20.1" lengthAdjust="spacingAndGlyphs" >SL-304</text>
<text x="750.6" y="476.94" class="bi" textLength="5" lengthAdjust="spacingAndGlyphs" >16</text>
<text x="809.3" y="476.94" class="bc" textLength="19.8" lengthAdjust="spacingAndGlyphs" >回油过滤器</text>
<text x="857.2" y="476.94" class="bi" textLength="2.4" lengthAdjust="spacingAndGlyphs" >1</text>
<text x="866" y="476.94" class="bi" textLength="15.1" lengthAdjust="spacingAndGlyphs" >RF系列</text>
<text x="750.6" y="484.92" class="bi" textLength="5" lengthAdjust="spacingAndGlyphs" >15</text>
<text x="809.3" y="484.92" class="bc" textLength="11.9" lengthAdjust="spacingAndGlyphs" >液位计</text>
<text x="857.2" y="484.92" class="bi" textLength="2.4" lengthAdjust="spacingAndGlyphs" >1</text>
<text x="866" y="484.92" class="bi" textLength="10.1" lengthAdjust="spacingAndGlyphs" >YWZ</text>
<text x="750.6" y="492.9" class="bi" textLength="5" lengthAdjust="spacingAndGlyphs" >14</text>
<text x="809.3" y="492.9" class="bc" textLength="11.9" lengthAdjust="spacingAndGlyphs" >液压缸</text>
<text x="857.2" y="492.9" class="bi" textLength="2.4" lengthAdjust="spacingAndGlyphs" >1</text>
<text x="866" y="492.9" class="bi" textLength="8.4" lengthAdjust="spacingAndGlyphs" >组件</text>
<text x="750.6" y="500.88" class="bi" textLength="5" lengthAdjust="spacingAndGlyphs" >13</text>
<text x="809.3" y="500.88" class="bc" textLength="31.6" lengthAdjust="spacingAndGlyphs" >叠加式双向节流阀</text>
<text x="857.2" y="500.88" class="bi" textLength="2.4" lengthAdjust="spacingAndGlyphs" >1</text>
<text x="866" y="500.88" class="bi" textLength="20.1" lengthAdjust="spacingAndGlyphs" >Z2FS10</text>
<text x="750.6" y="508.86" class="bi" textLength="5" lengthAdjust="spacingAndGlyphs" >12</text>
<text x="809.3" y="508.86" class="bc" textLength="31.6" lengthAdjust="spacingAndGlyphs" >叠加式液控单向阀</text>
<text x="857.2" y="508.86" class="bi" textLength="2.4" lengthAdjust="spacingAndGlyphs" >1</text>
<text x="866" y="508.86" class="bi" textLength="16.8" lengthAdjust="spacingAndGlyphs" >Z2S10</text>
<text x="750.6" y="516.84" class="bi" textLength="5" lengthAdjust="spacingAndGlyphs" >11</text>
<text x="809.3" y="516.84" class="bc" textLength="35.6" lengthAdjust="spacingAndGlyphs" >三位四通电磁换向阀</text>
<text x="857.2" y="516.84" class="bi" textLength="2.4" lengthAdjust="spacingAndGlyphs" >1</text>
<text x="866" y="516.84" class="bi" textLength="20.1" lengthAdjust="spacingAndGlyphs" >4WE10Y</text>
<text x="750.6" y="524.82" class="bi" textLength="5" lengthAdjust="spacingAndGlyphs" >10</text>
<text x="809.3" y="524.82" class="bc" textLength="11.9" lengthAdjust="spacingAndGlyphs" >蓄能器</text>
<text x="857.2" y="524.82" class="bi" textLength="2.4" lengthAdjust="spacingAndGlyphs" >1</text>
<text x="866" y="524.82" class="bi" textLength="10.1" lengthAdjust="spacingAndGlyphs" >NXQ</text>
<text x="752" y="532.8" class="bi" textLength="2.8" lengthAdjust="spacingAndGlyphs" >9</text>
<text x="809.3" y="532.8" class="bc" textLength="11.9" lengthAdjust="spacingAndGlyphs" >压力表</text>
<text x="857.2" y="532.8" class="bi" textLength="2.4" lengthAdjust="spacingAndGlyphs" >1</text>
<text x="866" y="532.8" class="bi" textLength="16.8" lengthAdjust="spacingAndGlyphs" >Y-100</text>
<text x="752" y="540.78" class="bi" textLength="2.8" lengthAdjust="spacingAndGlyphs" >8</text>
<text x="809.3" y="540.78" class="bc" textLength="11.9" lengthAdjust="spacingAndGlyphs" >截止阀</text>
<text x="857.2" y="540.78" class="bi" textLength="2.4" lengthAdjust="spacingAndGlyphs" >1</text>
<text x="866" y="540.78" class="bi" textLength="10.1" lengthAdjust="spacingAndGlyphs" >QJH</text>
<text x="752" y="548.76" class="bi" textLength="2.8" lengthAdjust="spacingAndGlyphs" >7</text>
<text x="809.3" y="548.76" class="bc" textLength="31.6" lengthAdjust="spacingAndGlyphs" >先导式电磁溢流阀</text>
<text x="857.2" y="548.76" class="bi" textLength="2.4" lengthAdjust="spacingAndGlyphs" >1</text>
<text x="866" y="548.76" class="bi" textLength="16.8" lengthAdjust="spacingAndGlyphs" >DBW10</text>
<text x="752" y="556.74" class="bi" textLength="2.8" lengthAdjust="spacingAndGlyphs" >6</text>
<text x="809.3" y="556.74" class="bc" textLength="11.9" lengthAdjust="spacingAndGlyphs" >单向阀</text>
<text x="857.2" y="556.74" class="bi" textLength="2.4" lengthAdjust="spacingAndGlyphs" >1</text>
<text x="866" y="556.74" class="bi" textLength="10.1" lengthAdjust="spacingAndGlyphs" >S10</text>
<text x="752" y="564.72" class="bi" textLength="2.8" lengthAdjust="spacingAndGlyphs" >5</text>
<text x="809.3" y="564.72" class="bc" textLength="15.8" lengthAdjust="spacingAndGlyphs" >精过滤器</text>
<text x="857.2" y="564.72" class="bi" textLength="2.4" lengthAdjust="spacingAndGlyphs" >1</text>
<text x="866" y="564.72" class="bi" textLength="20.1" lengthAdjust="spacingAndGlyphs" >GU-H10</text>
<text x="752" y="572.7" class="bi" textLength="2.8" lengthAdjust="spacingAndGlyphs" >4</text>
<text x="809.3" y="572.7" class="bc" textLength="7.9" lengthAdjust="spacingAndGlyphs" >电机</text>
<text x="857.2" y="572.7" class="bi" textLength="2.4" lengthAdjust="spacingAndGlyphs" >1</text>
<text x="866" y="572.7" class="bi" textLength="23.4" lengthAdjust="spacingAndGlyphs" >Y200L-4</text>
<text x="752" y="580.68" class="bi" textLength="2.8" lengthAdjust="spacingAndGlyphs" >3</text>
<text x="809.3" y="580.68" class="bc" textLength="11.9" lengthAdjust="spacingAndGlyphs" >变量泵</text>
<text x="857.2" y="580.68" class="bi" textLength="2.4" lengthAdjust="spacingAndGlyphs" >1</text>
<text x="866" y="580.68" class="bi" textLength="26.8" lengthAdjust="spacingAndGlyphs" >A10VSO18</text>
<text x="752" y="588.66" class="bi" textLength="2.8" lengthAdjust="spacingAndGlyphs" >2</text>
<text x="809.3" y="588.66" class="bc" textLength="19.8" lengthAdjust="spacingAndGlyphs" >吸油过滤器</text>
<text x="857.2" y="588.66" class="bi" textLength="2.4" lengthAdjust="spacingAndGlyphs" >1</text>
<text x="866" y="588.66" class="bi" textLength="20.1" lengthAdjust="spacingAndGlyphs" >XU-160</text>
<text x="752" y="596.64" class="bi" textLength="2.8" lengthAdjust="spacingAndGlyphs" >1</text>
<text x="809.3" y="596.64" class="bc" textLength="7.9" lengthAdjust="spacingAndGlyphs" >油箱</text>
<text x="857.2" y="596.64" class="bi" textLength="2.4" lengthAdjust="spacingAndGlyphs" >1</text>
<text x="866" y="596.64" class="bi" textLength="12.6" lengthAdjust="spacingAndGlyphs" >焊合件</text>
<text x="750" y="608.6" class="bh" textLength="7.2" lengthAdjust="spacingAndGlyphs" >序号</text>
<text x="775.5" y="608.6" class="bh" textLength="11.2" lengthAdjust="spacingAndGlyphs" >代 号</text>
<text x="822.8" y="608.6" class="bh" textLength="11.3" lengthAdjust="spacingAndGlyphs" >名 称</text>
<text x="855.5" y="608.6" class="bh" textLength="6.6" lengthAdjust="spacingAndGlyphs" >数量</text>
<text x="878.6" y="608.6" class="bh" textLength="8.5" lengthAdjust="spacingAndGlyphs" >材料</text>
<text x="908.6" y="605.1" class="bh" textLength="8.3" lengthAdjust="spacingAndGlyphs" >单件</text>
<text x="921" y="605.1" class="bh" textLength="8.6" lengthAdjust="spacingAndGlyphs" >总计</text>
<text x="915.4" y="612.8" class="bh" textLength="12.4" lengthAdjust="spacingAndGlyphs" >重 量</text>
<text x="935.7" y="608.6" class="bh" textLength="12.3" lengthAdjust="spacingAndGlyphs" >备 注</text>
<text x="751" y="645.2" class="bh" textLength="9" lengthAdjust="spacingAndGlyphs" >标记</text>
<text x="762.5" y="645.2" class="bh" textLength="9" lengthAdjust="spacingAndGlyphs" >处数</text>
<text x="776.5" y="645.2" class="bh" textLength="9" lengthAdjust="spacingAndGlyphs" >分区</text>
<text x="790.8" y="645.2" class="bh" textLength="18" lengthAdjust="spacingAndGlyphs" >更改文件号</text>
<text x="810.5" y="645.2" class="bh" textLength="9.5" lengthAdjust="spacingAndGlyphs" >签名</text>
<text x="823" y="645.2" class="bh" textLength="18" lengthAdjust="spacingAndGlyphs" >年、月、日</text>
<text x="751.5" y="653" class="bh" textLength="10" lengthAdjust="spacingAndGlyphs" >设计</text>
<text x="796.2" y="653" class="bh" textLength="13" lengthAdjust="spacingAndGlyphs" >标准化</text>
<text x="751.5" y="668.8" class="bh" textLength="10" lengthAdjust="spacingAndGlyphs" >审核</text>
<text x="751.5" y="676.7" class="bh" textLength="10" lengthAdjust="spacingAndGlyphs" >工艺</text>
<text x="847.7" y="633.4" class="bs" textLength="29.5" lengthAdjust="spacingAndGlyphs" >液压系统原理图</text>
<text x="848.8" y="655.2" class="bh" textLength="17" lengthAdjust="spacingAndGlyphs" >阶段标记</text>
<text x="874" y="655.2" class="bh" textLength="8.4" lengthAdjust="spacingAndGlyphs" >重量</text>
<text x="886.7" y="655.2" class="bh" textLength="9" lengthAdjust="spacingAndGlyphs" >比例</text>
<text x="856.2" y="676.3" class="bh" textLength="32" lengthAdjust="spacingAndGlyphs" >共 张 第 张</text>
<text x="905.9" y="628.4" class="bt" textLength="46.8" lengthAdjust="spacingAndGlyphs" >推底油缸液压系统</text>
<text x="922" y="672.9" class="ba" textLength="10.4" lengthAdjust="spacingAndGlyphs" >A0</text>
</svg>
</body>
</html>
